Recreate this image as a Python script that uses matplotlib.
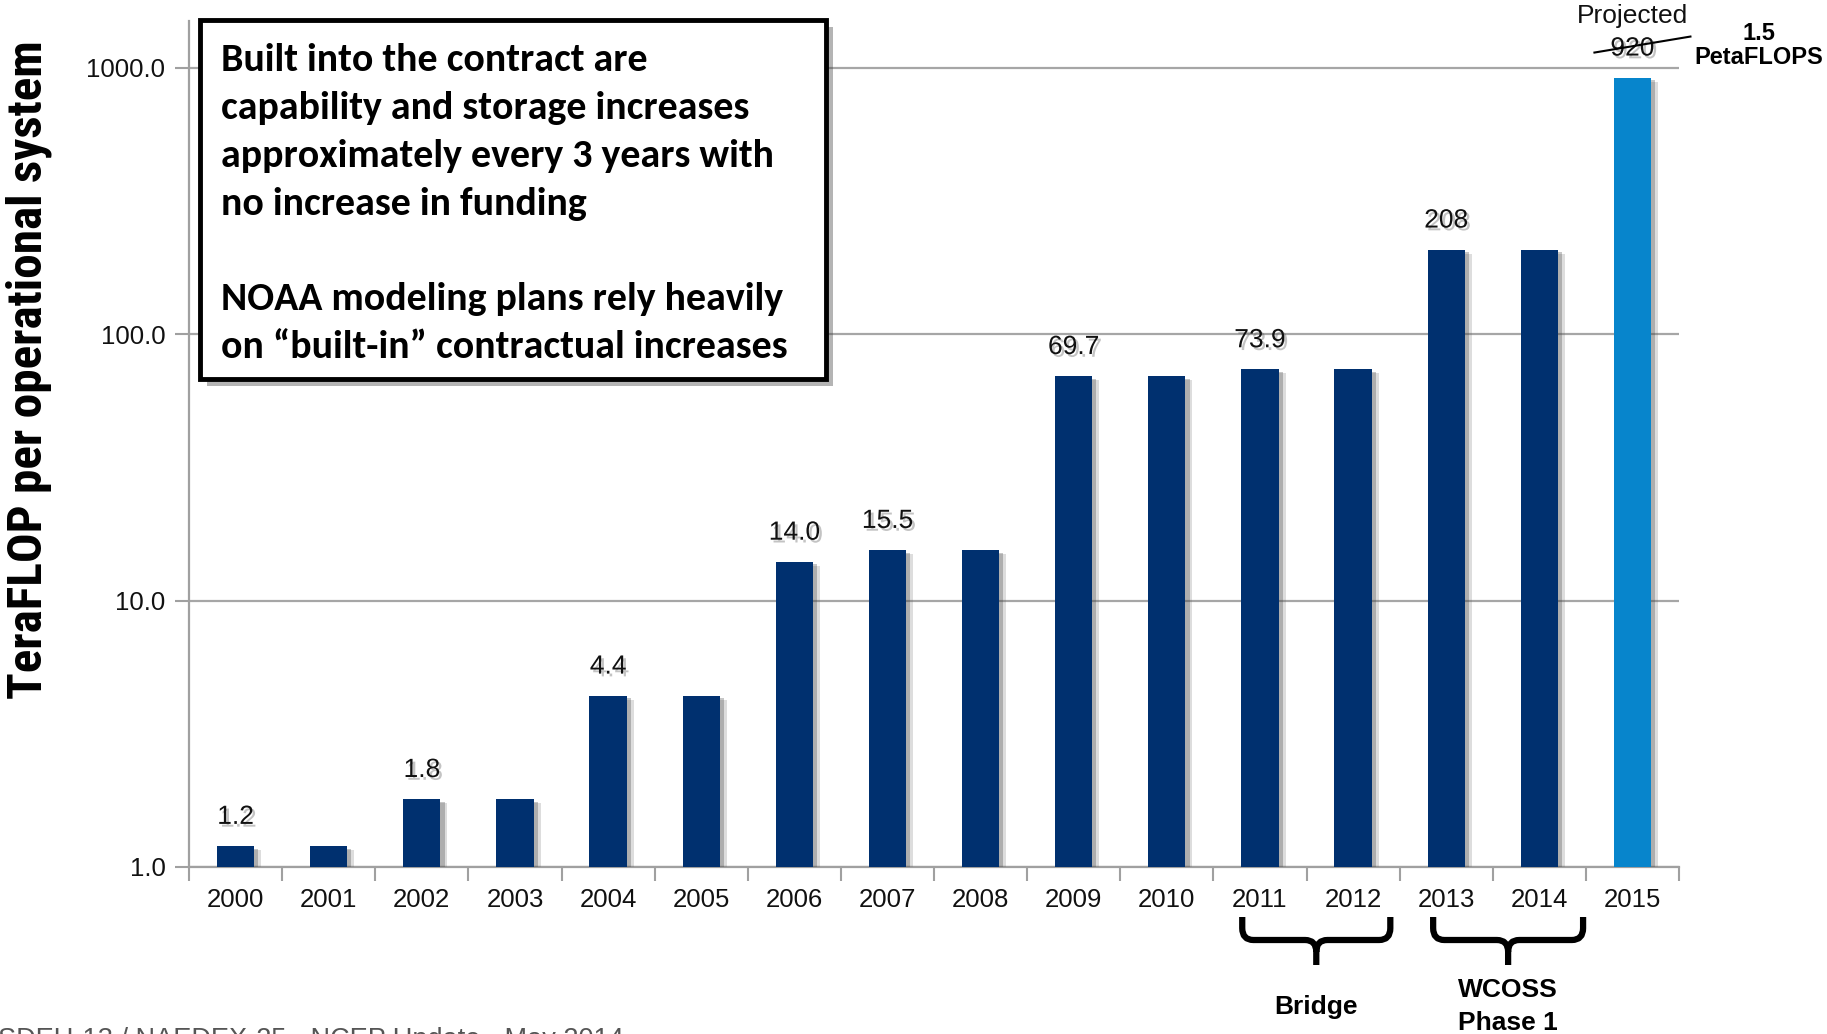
import matplotlib
matplotlib.use("Agg")
import matplotlib.pyplot as plt
import numpy as np
from matplotlib import patheffects as pe
from matplotlib.transforms import blended_transform_factory, IdentityTransform
from matplotlib.path import Path
from matplotlib.patches import PathPatch, Rectangle
from matplotlib.lines import Line2D
from matplotlib.ticker import NullLocator
from matplotlib import font_manager as fm

# ---------------- data ----------------
years = [str(y) for y in range(2000, 2016)]
teraflops = [1.2, 1.2, 1.8, 1.8, 4.4, 4.4, 14.0, 15.5, 15.5, 69.7, 69.7, 73.9, 73.9, 208, 208, 920]
value_labels = ["1.2", "", "1.8", "", "4.4", "", "14.0", "15.5", "", "69.7", "", "73.9", "", "208", "", "920"]
projected = [False] * 15 + [True]
y_ticks = [1, 10, 100, 1000]
y_tick_labels = ["1.0", "10.0", "100.0", "1000.0"]
brace_groups = [("Bridge", 11, 12), ("WCOSS\nPhase 1", 13, 14)]
box_lines = ["Built into the contract are",
             "capability and storage increases",
             "approximately every 3 years with",
             "no increase in funding",
             "",
             "NOAA modeling plans rely heavily",
             "on \u201cbuilt-in\u201d contractual increases"]

installed = {f.name for f in fm.fontManager.ttflist}
BOX_FONT = "Carlito" if "Carlito" in installed else "Lato"
YL_FONT = "Roboto Condensed" if "Roboto Condensed" in installed else "DejaVu Sans"

plt.rcParams["font.family"] = ["Liberation Sans", "DejaVu Sans"]

W, H = 1827, 1034
NAVY = "#00306f"
LIGHT = "#0785cc"
GRID = "#a6a6a6"

fig = plt.figure(figsize=(W / 100, H / 100), dpi=100)
ax = fig.add_axes([189 / W, 1 - 867 / H, (1679 - 189) / W, (867 - 21) / H])

x = np.arange(len(years))
colors = [LIGHT if p else NAVY for p in projected]
shadow = [pe.SimplePatchShadow(offset=(5, -3), shadow_rgbFace="#666666", alpha=0.22),
          pe.SimplePatchShadow(offset=(3, -2), shadow_rgbFace="#444444", alpha=0.3), pe.Normal()]
ax.bar(x, teraflops, width=0.4, color=colors, zorder=3, path_effects=shadow)

ax.set_yscale("log")
ax.set_ylim(1, 1500)
ax.set_xlim(-0.5, 15.5)
ax.set_yticks(y_ticks, y_tick_labels)
ax.yaxis.set_minor_locator(NullLocator())
ax.tick_params(axis="y", which="major", length=10, width=1.5, color="#a0a0a0",
               pad=7, labelsize=18.5, labelcolor="#111111")
ax.set_xticks(x, years)
ax.tick_params(axis="x", which="major", length=0, pad=15, labelsize=18.5, labelcolor="#111111")
ax.set_xticks(np.arange(-0.5, 16, 1), minor=True)
ax.tick_params(axis="x", which="minor", length=10, width=1.5, color="#a0a0a0")
ax.yaxis.grid(True, which="major", color=GRID, lw=1.6, zorder=0)
ax.set_axisbelow(True)
for s in ["top", "right"]:
    ax.spines[s].set_visible(False)
for s in ["left", "bottom"]:
    ax.spines[s].set_color("#a0a0a0")
    ax.spines[s].set_linewidth(1.6)

# value labels
txt_shadow = [pe.SimplePatchShadow(offset=(2, -2), shadow_rgbFace="#555555", alpha=0.35), pe.Normal()]
for i, (lab, v) in enumerate(zip(value_labels, teraflops)):
    if lab:
        ax.annotate(lab, (i, v), xytext=(0, 29), textcoords="offset pixels",
                    ha="center", va="center", fontsize=19, color="#111111",
                    path_effects=txt_shadow, zorder=6)

# projected label and strike line
last = len(years) - 1
ax.annotate("Projected", (last, teraflops[last]), xytext=(0, 62), textcoords="offset pixels",
            ha="center", va="center", fontsize=19, color="#111111")
p = ax.transData.transform((last, teraflops[last]))
fig.add_artist(Line2D([p[0] - 38, p[0] + 58], [p[1] + 25, p[1] + 41], color="black", lw=1.5,
                      transform=IdentityTransform()))
fig.text(1759 / W, 1 - 33 / H, "1.5", ha="center", va="center", fontsize=17, fontweight="bold")
fig.text(1759 / W, 1 - 58 / H, "PetaFLOPS", ha="center", va="center", fontsize=17, fontweight="bold")

# y label
r = fig.canvas.get_renderer()
yl = fig.text(29 / W, 1 - 370 / H, "TeraFLOP per operational system", rotation=90,
              ha="center", va="center", fontsize=34, fontweight="bold", family=YL_FONT)
bb = yl.get_window_extent(r)
yl.set_fontsize(34 * 658 / bb.height)

# braces
bt = blended_transform_factory(ax.transData, ax.transAxes)
def yf(row):
    return (867 - row) / 846
brace_extent = [(-0.19, 0.40), (-0.14, 0.47)]
for (name, a, b), (dl, dr) in zip(brace_groups, brace_extent):
    xl = a + dl
    xr = b + dr
    xc = (xl + xr) / 2
    y0, y1, y2 = yf(917), yf(940), yf(965)
    rx, ry = 0.12, 0.014
    verts = [(xl, y0), (xl, y1 + ry), (xl, y1), (xl + rx, y1), (xc - rx, y1), (xc, y1), (xc, y1 - ry), (xc, y2),
             (xr, y0), (xr, y1 + ry), (xr, y1), (xr - rx, y1), (xc + rx, y1), (xc, y1), (xc, y1 - ry)]
    codes = [Path.MOVETO, Path.LINETO, Path.CURVE3, Path.CURVE3, Path.LINETO, Path.CURVE3, Path.CURVE3, Path.LINETO,
             Path.MOVETO, Path.LINETO, Path.CURVE3, Path.CURVE3, Path.LINETO, Path.CURVE3, Path.CURVE3]
    ax.add_patch(PathPatch(Path(verts, codes), fc="none", ec="black", lw=4.5, capstyle="butt",
                           joinstyle="round", transform=bt, clip_on=False))
    lines = name.split("\n")
    if len(lines) == 1:
        ax.text(xc, yf(1007), lines[0], transform=bt, ha="center", va="center",
                fontsize=19, fontweight="bold")
    else:
        ax.text(xc, yf(990), lines[0], transform=bt, ha="center", va="center",
                fontsize=19, fontweight="bold")
        ax.text(xc, yf(1023), lines[1], transform=bt, ha="center", va="center",
                fontsize=19, fontweight="bold")

# text box
box_shadow = [pe.SimplePatchShadow(offset=(5, -5), shadow_rgbFace="#444444", alpha=0.4), pe.Normal()]
fig.add_artist(Rectangle((200 / W, 1 - 379 / H), 626 / W, 359 / H, transform=fig.transFigure,
                         fc="white", ec="black", lw=3.5, zorder=5, path_effects=box_shadow))
baselines = [71, 119, 167, 215, 0, 310, 358]
texts = []
for line, bl in zip(box_lines, baselines):
    if line:
        t = fig.text(221 / W, 1 - bl / H, line, ha="left", va="baseline", fontsize=26,
                     fontweight="bold", family=BOX_FONT, zorder=6)
        texts.append(t)
bb = texts[-1].get_window_extent(r)
fs = 26 * 568 / bb.width
for t in texts:
    t.set_fontsize(fs)

# footer (cut off at the bottom edge)
fig.text(-2 / W, -13 / H, "SDEU-13 / NAEDEX-25 - NCEP Update - May 2014", ha="left",
         va="baseline", fontsize=19.5, color="#555555")

fig.savefig("out.png", dpi=100)
